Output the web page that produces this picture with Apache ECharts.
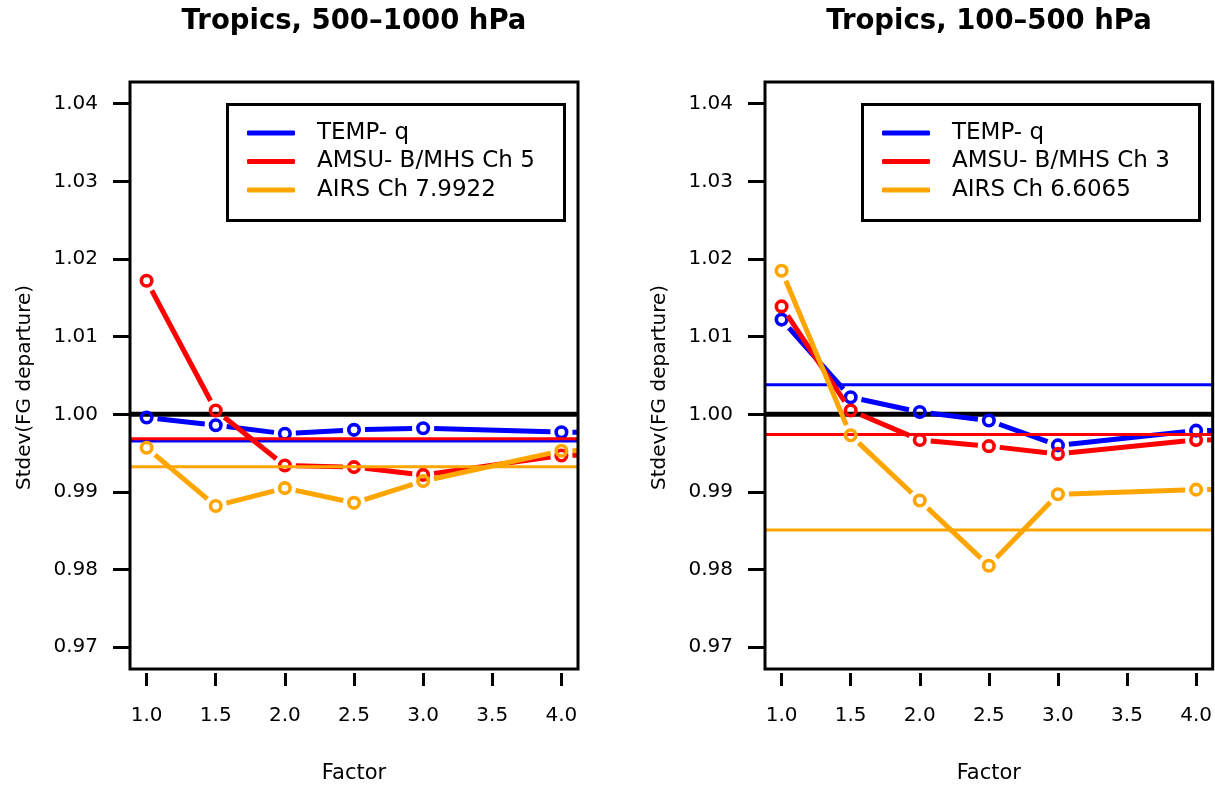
<!DOCTYPE html>
<html><head><meta charset="utf-8">
<script src="https://cdn.jsdelivr.net/npm/echarts@6/dist/echarts.min.js"></script>
<style>html,body{margin:0;padding:0;background:#fff}#c{width:1215px;height:789px}</style>
</head><body><div id="c"></div>
<script>
// ---- data ----
const factors = [1.0, 1.5, 2.0, 2.5, 3.0, 4.0, 5.0];
const xTicks = [1.0, 1.5, 2.0, 2.5, 3.0, 3.5, 4.0];
const yTicks = [0.97, 0.98, 0.99, 1.00, 1.01, 1.02, 1.03, 1.04];
const panelTitles = ['Tropics, 500\u20131000 hPa', 'Tropics, 100\u2013500 hPa'];
const xAxisTitle = 'Factor';
const yAxisTitle = 'Stdev(FG departure)';
const baseline = 1.00;

const leftNames = ['TEMP- q', 'AMSU- B/MHS Ch 5', 'AIRS Ch 7.9922'];
const leftTemp  = [0.9996, 0.9986, 0.9975, 0.9980, 0.9982, 0.9977, 0.9977];
const leftAmsu  = [1.0172, 1.0005, 0.9934, 0.9932, 0.9922, 0.9947, 0.9950];
const leftAirs  = [0.9957, 0.9882, 0.9905, 0.9886, 0.9914, 0.9953, 0.9956];
const leftRef   = [0.99655, 0.99685, 0.99325];

const rightNames = ['TEMP- q', 'AMSU- B/MHS Ch 3', 'AIRS Ch 6.6065'];
const rightTemp  = [1.0122, 1.0022, 1.0003, 0.9992, 0.9960, 0.9979, 0.9980];
const rightAmsu  = [1.0139, 1.0005, 0.9967, 0.9959, 0.9949, 0.9967, 0.9968];
const rightAirs  = [1.0185, 0.9973, 0.9889, 0.9805, 0.9897, 0.9903, 0.9904];
const rightRef   = [1.0038, 0.9974, 0.9851];

const colors = ['#0000ff', '#ff0000', '#ffa500'];

// ---- layout / style ----
const FONT = 'DejaVu Sans';
const grids = [
  {left: 130, top: 82, width: 448, height: 591},
  {left: 765, top: 82, width: 448, height: 591}
];
const GAP = 11;

function clipGroup(params, child) {
  const cs = params.coordSys;
  return {type: 'group', children: [child],
    clipPath: {type: 'rect', shape: {x: cs.x, y: cs.y, width: cs.width, height: cs.height}}};
}

function gapLine(name, color, idx, values, z) {
  const data = [];
  for (let i = 0; i < factors.length - 1; i++) data.push([factors[i], values[i], factors[i + 1], values[i + 1]]);
  return {
    type: 'custom', name, xAxisIndex: idx, yAxisIndex: idx, z,
    itemStyle: {color}, encode: {x: [0, 2], y: [1, 3]}, data, silent: true,
    renderItem(params, api) {
      const p1 = api.coord([api.value(0), api.value(1)]);
      const p2 = api.coord([api.value(2), api.value(3)]);
      const dx = p2[0] - p1[0], dy = p2[1] - p1[1], L = Math.hypot(dx, dy);
      if (L <= 2 * GAP) return null;
      const ux = dx / L, uy = dy / L;
      return clipGroup(params, {type: 'line',
        shape: {x1: p1[0] + ux * GAP, y1: p1[1] + uy * GAP, x2: p2[0] - ux * GAP, y2: p2[1] - uy * GAP},
        style: {stroke: color, lineWidth: 5, lineCap: 'butt'}});
    }
  };
}

function points(name, color, idx, values, z) {
  return {
    type: 'scatter', name, xAxisIndex: idx, yAxisIndex: idx, z, clip: true,
    symbol: 'circle', symbolSize: 10.5,
    itemStyle: {color: 'rgba(255,255,255,0)', borderColor: color, borderWidth: 3.6, opacity: 1},
    data: factors.map((f, i) => [f, values[i]]), silent: true
  };
}

function hline(name, color, idx, value, width, z) {
  return {
    type: 'custom', name, xAxisIndex: idx, yAxisIndex: idx, z, silent: true,
    data: [[xTicks[0], value]], encode: {x: 0, y: 1},
    renderItem(params, api) {
      const cs = params.coordSys;
      const y = api.coord([api.value(0), api.value(1)])[1];
      return {type: 'line', shape: {x1: cs.x, y1: y, x2: cs.x + cs.width, y2: y},
        style: {stroke: color, lineWidth: width}};
    }
  };
}

const panels = [
  {names: leftNames, vals: [leftTemp, leftAmsu, leftAirs], ref: leftRef},
  {names: rightNames, vals: [rightTemp, rightAmsu, rightAirs], ref: rightRef}
];

const series = [];
panels.forEach((p, idx) => {
  series.push(hline('base', '#000', idx, baseline, 5, 1));
  for (let k = 0; k < 3; k++) {
    series.push(gapLine(p.names[k], colors[k], idx, p.vals[k], 2 + 2 * k));
    series.push(points(p.names[k], colors[k], idx, p.vals[k], 2 + 2 * k));
    series.push(hline(p.names[k] + ' mean', colors[k], idx, p.ref[k], 3, 3 + 2 * k));
  }
});

const xAxes = grids.map((g, i) => ({
  type: 'value', gridIndex: i, min: 0.88, max: 4.12, offset: 4,
  splitLine: {show: false}, axisLine: {show: false},
  axisTick: {show: true, length: 13, lineStyle: {color: '#000', width: 3}, customValues: xTicks},
  axisLabel: {customValues: xTicks, margin: 33, color: '#000', fontFamily: FONT, fontSize: 20,
    formatter: v => v.toFixed(1)},
  name: xAxisTitle, nameLocation: 'middle', nameGap: 90,
  nameTextStyle: {color: '#000', fontFamily: FONT, fontSize: 21}
}));
const yAxes = grids.map((g, i) => ({
  type: 'value', gridIndex: i, min: 0.9672, max: 1.0428,
  splitLine: {show: false}, axisLine: {show: false},
  axisTick: {show: true, length: 17, lineStyle: {color: '#000', width: 3}, customValues: yTicks},
  axisLabel: {customValues: yTicks, margin: 32, color: '#000', fontFamily: FONT, fontSize: 20,
    formatter: v => v.toFixed(2)},
  name: yAxisTitle, nameLocation: 'middle', nameGap: 95, nameRotate: 90,
  nameTextStyle: {color: '#000', fontFamily: FONT, fontSize: 20, padding: [0, 24, 0, 0]}
}));

const legends = panels.map((p, i) => ({
  orient: 'vertical', left: grids[i].left + 117, top: 121.5, padding: 0,
  itemWidth: 48, itemHeight: 5, itemGap: 5.5, selectedMode: false,
  icon: 'roundRect',
  data: p.names.map((n, k) => ({name: n, itemStyle: {color: colors[k]}})),
  formatter: n => '{t|' + n + '}',
  textStyle: {color: '#000', fontFamily: FONT, fontSize: 23,
    rich: {t: {padding: [0, 0, 0, 17], fontFamily: FONT, fontSize: 23, color: '#000', lineHeight: 20}}}
}));

const titles = grids.map((g, i) => ({
  text: panelTitles[i], left: g.left + g.width / 2, top: 8, textAlign: 'center', padding: 0,
  textStyle: {fontFamily: FONT, fontWeight: 'bold', fontSize: 27.5, color: '#000'}
}));

const legendBoxes = grids.map(g => ({
  type: 'rect', left: g.left + 95, top: 102, z: 50,
  shape: {width: 337, height: 116},
  style: {fill: 'none', stroke: '#000', lineWidth: 3}
}));

const chart = echarts.init(document.getElementById('c'), null, {renderer: 'canvas'});
chart.setOption({
  animation: false,
  backgroundColor: '#fff',
  title: titles,
  grid: grids.map(g => Object.assign({show: true, borderColor: '#000', borderWidth: 3, backgroundColor: 'transparent', z: 40}, g)),
  xAxis: xAxes,
  yAxis: yAxes,
  legend: legends,
  graphic: legendBoxes,
  series
});
</script>
</body></html>
